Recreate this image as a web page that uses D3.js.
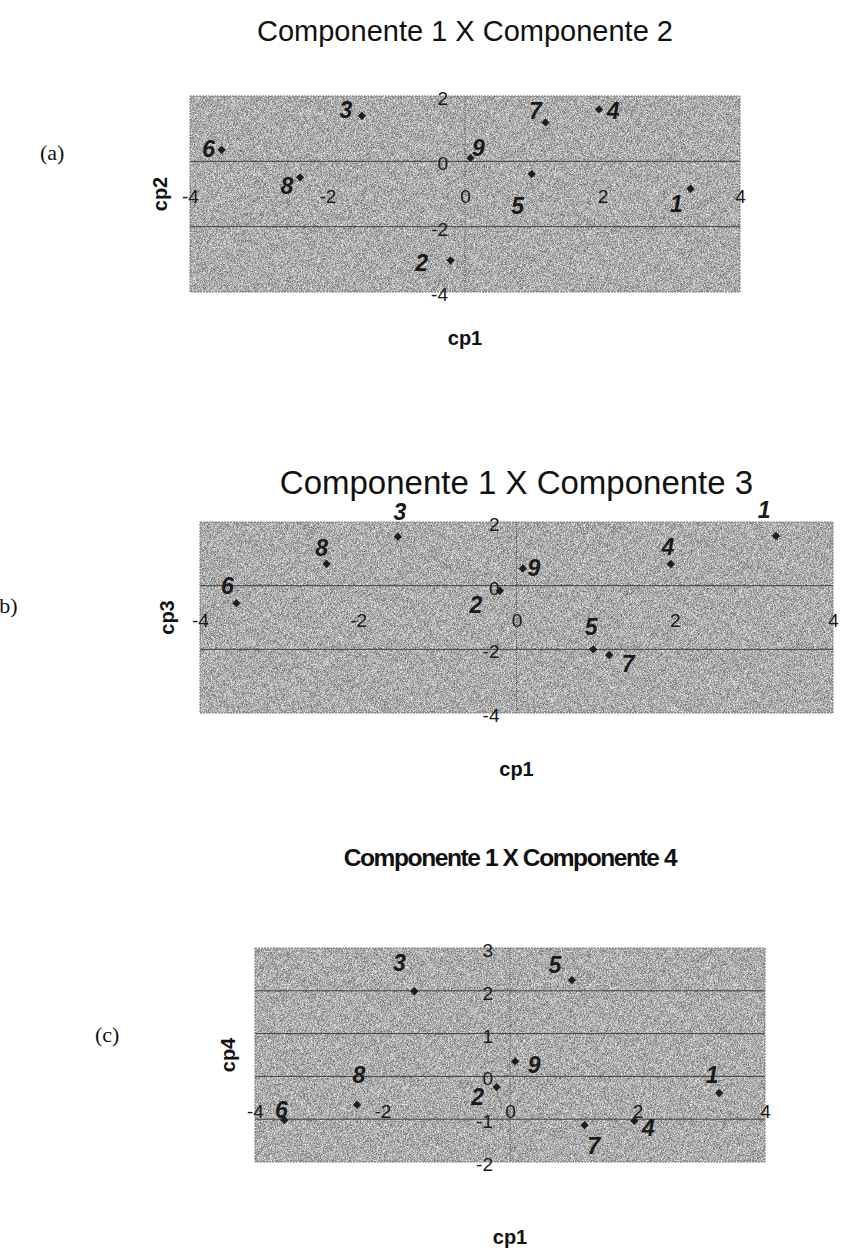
<!DOCTYPE html>
<html>
<head>
<meta charset="utf-8">
<script src="https://cdn.jsdelivr.net/npm/d3@7"></script>
<style>
  html, body { margin: 0; padding: 0; background: #fff; }
  svg { display: block; }
  text { font-family: Arial, "Liberation Sans", sans-serif; }
</style>
</head>
<body>
<svg id="fig" width="843" height="1257"></svg>
<script>
// Principal component scores of the nine samples
const pointIds = ["1", "2", "3", "4", "5", "6", "7", "8", "9"];
const cp1 = [3.28, -0.21, -1.50, 1.95, 0.97, -3.54, 1.17, -2.40, 0.08];
const cp2 = [-0.84, -3.03, 1.39, 1.59, -0.39, 0.35, 1.19, -0.49, 0.10];
const cp3 = [1.56, -0.16, 1.54, 0.68, -2.00, -0.55, -2.18, 0.68, 0.54];
const cp4 = [-0.39, -0.25, 1.99, -1.04, 2.25, -1.02, -1.14, -0.66, 0.35];

// Axis ticks
const ticksCp1 = [-4, -2, 0, 2, 4];
const ticksCp2 = [-4, -2, 0, 2];
const ticksCp3 = [-4, -2, 0, 2];
const ticksCp4 = [-2, -1, 0, 1, 2, 3];

// Titles and axis names
const titles = ["Componente 1 X Componente 2", "Componente 1 X Componente 3", "Componente 1 X Componente 4"];
const yNames = ["cp2", "cp3", "cp4"];
const xName = "cp1";
const tags = ["(a)", "(b)", "(c)"];

// Layout of the three panels
const panels = [
  {
    y: cp2, yTicks: ticksCp2, box: { x0: 190, x1: 740, y0: 96, y1: 292 },
    title: { y: 41, size: 29, weight: "normal", spacing: 0 },
    yName: { x: 160 }, xName: { y: 345 }, tag: { x: 40, y: 160 },
    // label offsets from each marker (px)
    lab: [[-14, 15], [-29, 2], [-16, -6], [14, 1], [-14, 32], [-13, -1], [-10, -12], [-13, 8], [8, -10]]
  },
  {
    y: cp3, yTicks: ticksCp3, box: { x0: 200, x1: 833, y0: 522, y1: 713 },
    title: { y: 494, size: 33, weight: "normal", spacing: 0 },
    yName: { x: 167 }, xName: { y: 776 }, tag: { x: -8, y: 613 },
    lab: [[-12, -26], [-24, 14], [2, -25], [-3, -17], [-2, -23], [-9, -17], [19, 9], [-5, -16], [11, -1]]
  },
  {
    y: cp4, yTicks: ticksCp4, box: { x0: 255, x1: 765, y0: 948, y1: 1162 },
    title: { y: 866, size: 24.5, weight: "bold", spacing: -1.4 },
    yName: { x: 228 }, xName: { y: 1244 }, tag: { x: 95, y: 1042 },
    lab: [[-7, -18], [-19, 10], [-15, -29], [14, 7], [-17, -15], [-3, -10], [9, 21], [2, -30], [19, 3]]
  }
];

const svg = d3.select("#fig");

// Scanned-halftone grain for the plot areas
const defs = svg.append("defs");
const grain = defs.append("filter").attr("id", "grain")
  .attr("x", 0).attr("y", 0).attr("width", "100%").attr("height", "100%")
  .attr("color-interpolation-filters", "sRGB");
grain.append("feTurbulence").attr("type", "fractalNoise")
  .attr("baseFrequency", 1.7).attr("numOctaves", 1).attr("seed", 5).attr("result", "noise");
grain.append("feColorMatrix").attr("in", "noise").attr("type", "matrix")
  .attr("values", "1 0 0 0 0  1 0 0 0 0  1 0 0 0 0  0 0 0 0 1")
  .attr("result", "gray");
const ct = grain.append("feComponentTransfer").attr("in", "gray").attr("result", "contrast");
["feFuncR", "feFuncG", "feFuncB"].forEach(f =>
  ct.append(f).attr("type", "linear").attr("slope", 1.0).attr("intercept", 0.18));
grain.append("feComposite").attr("in", "contrast").attr("in2", "SourceGraphic").attr("operator", "in");

svg.append("rect").attr("width", 843).attr("height", 1257).attr("fill", "#fff");

const numFmt = d => String(d);

panels.forEach((p, i) => {
  const b = p.box;
  const x = d3.scaleLinear().domain([-4, 4]).range([b.x0, b.x1]);
  const y = d3.scaleLinear().domain(d3.extent(p.yTicks)).range([b.y1, b.y0]);
  const g = svg.append("g");

  // plot area
  g.append("rect")
    .attr("x", b.x0).attr("y", b.y0)
    .attr("width", b.x1 - b.x0).attr("height", b.y1 - b.y0)
    .attr("fill", "#aaaaaa");
  g.append("rect")
    .attr("x", b.x0).attr("y", b.y0)
    .attr("width", b.x1 - b.x0).attr("height", b.y1 - b.y0)
    .attr("fill", "#aaaaaa").attr("filter", "url(#grain)");

  // horizontal gridlines
  const inner = p.yTicks.slice(1, -1);
  g.selectAll("line.grid").data(inner).join("line")
    .attr("class", "grid")
    .attr("x1", b.x0).attr("x2", b.x1)
    .attr("y1", d => y(d)).attr("y2", d => y(d))
    .attr("stroke", "#3e3e3e").attr("stroke-width", 1);

  // border
  g.append("rect")
    .attr("x", b.x0).attr("y", b.y0)
    .attr("width", b.x1 - b.x0).attr("height", b.y1 - b.y0)
    .attr("fill", "none").attr("stroke", "#7a7a7a").attr("stroke-width", 1)
    .attr("stroke-dasharray", "2,1");

  // vertical axis through cp1 = 0
  g.append("line")
    .attr("x1", x(0)).attr("x2", x(0)).attr("y1", b.y0).attr("y2", b.y1)
    .attr("stroke", "#5a5a5a").attr("stroke-width", 1).attr("stroke-dasharray", "1,1");

  // x tick labels, hanging below the zero line
  const xAxis = g.append("g")
    .attr("transform", `translate(0,${y(0)})`)
    .call(d3.axisBottom(x).tickValues(ticksCp1).tickSize(0).tickPadding(28).tickFormat(numFmt));
  xAxis.select(".domain").remove();
  xAxis.selectAll("text").attr("font-size", 19).attr("fill", "#1a1a1a")
    .style("font-family", "Arial, 'Liberation Sans', sans-serif");

  // y tick labels beside the vertical axis
  const yAxis = g.append("g")
    .attr("transform", `translate(${x(0)},0)`)
    .call(d3.axisLeft(y).tickValues(p.yTicks).tickSize(0).tickPadding(17).tickFormat(numFmt));
  yAxis.select(".domain").remove();
  yAxis.selectAll("text").attr("font-size", 19).attr("fill", "#1a1a1a").attr("dy", "0.45em")
    .style("font-family", "Arial, 'Liberation Sans', sans-serif");

  // markers
  const pts = pointIds.map((id, k) => ({ id, cx: cp1[k], cy: p.y[k], off: p.lab[k] }));
  g.selectAll("path.pt").data(pts).join("path")
    .attr("class", "pt")
    .attr("transform", d => `translate(${x(d.cx)},${y(d.cy)})`)
    .attr("d", d3.symbol(d3.symbolDiamond2, 44))
    .attr("fill", "#1e1e1e");

  // point labels
  g.selectAll("text.pl").data(pts).join("text")
    .attr("class", "pl")
    .attr("x", d => x(d.cx) + d.off[0])
    .attr("y", d => y(d.cy) + d.off[1])
    .attr("dy", "0.36em")
    .attr("text-anchor", "middle")
    .attr("font-size", 23).attr("font-weight", "bold").attr("font-style", "italic")
    .attr("fill", "#1a1a1a")
    .text(d => d.id);

  // title
  svg.append("text")
    .attr("x", (b.x0 + b.x1) / 2).attr("y", p.title.y)
    .attr("text-anchor", "middle")
    .attr("font-size", p.title.size).attr("font-weight", p.title.weight)
    .attr("letter-spacing", p.title.spacing)
    .attr("fill", "#111")
    .text(titles[i]);

  // axis names
  svg.append("text")
    .attr("transform", `translate(${p.yName.x},${(b.y0 + b.y1) / 2}) rotate(-90)`)
    .attr("text-anchor", "middle").attr("dy", "0.36em")
    .attr("font-size", 20).attr("font-weight", "bold").attr("fill", "#111")
    .text(yNames[i]);
  svg.append("text")
    .attr("x", (b.x0 + b.x1) / 2).attr("y", p.xName.y)
    .attr("text-anchor", "middle")
    .attr("font-size", 20).attr("font-weight", "bold").attr("fill", "#111")
    .text(xName);

  // panel tag
  svg.append("text")
    .attr("x", p.tag.x).attr("y", p.tag.y)
    .style("font-family", "'Liberation Serif', 'Times New Roman', serif")
    .attr("font-size", 22).attr("fill", "#111")
    .text(tags[i]);
});
</script>
</body>
</html>
